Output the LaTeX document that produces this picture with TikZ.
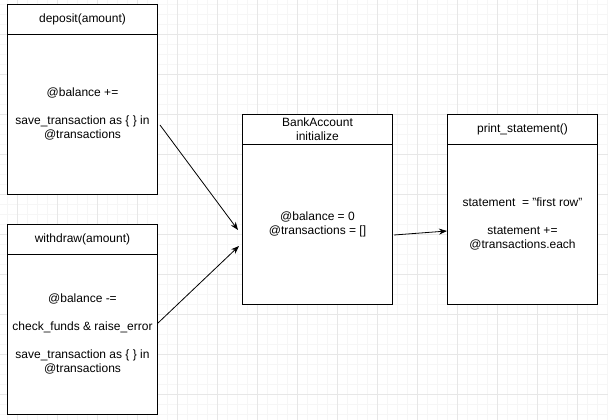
\documentclass[tikz,border=0pt]{standalone}
\usepackage{fontspec}
\setmainfont{Liberation Sans}
\usetikzlibrary{positioning,arrows.meta}
\definecolor{minorgrid}{RGB}{246,246,246}
\definecolor{majorgrid}{RGB}{231,231,231}
\tikzset{
    methodhead/.style = {draw, fill = white, line width = 1pt, minimum width = 150pt, minimum height = 30pt, inner sep = 0pt, outer sep = 0pt, align = center},
    methodbody/.style = {draw, fill = white, line width = 1pt, minimum width = 150pt, minimum height = 160pt, inner sep = 0pt, outer sep = 0pt, align = center},
    call/.style = {line width = 0.8pt, -{Stealth[length = 8pt, width = 6pt]}}
}
\begin{document}
\begin{tikzpicture}[x = 1pt, y = -1pt, font = \fontsize{12}{14}\selectfont]
        \useasboundingbox[fill = white] (0, 0) rectangle (608, 420);
        % grid
        \foreach \k in {0, ..., 60} \draw[minorgrid, line width = 0.6pt] (7 + 10*\k, 0) -- (7 + 10*\k, 420);
        \foreach \k in {0, ..., 41} \draw[minorgrid, line width = 0.6pt] (0, 4.5 + 10*\k) -- (608, 4.5 + 10*\k);
        \foreach \k in {0, ..., 14} \draw[majorgrid, line width = 0.8pt] (17 + 40*\k, 0) -- (17 + 40*\k, 420);
        \foreach \k in {0, ..., 9} \draw[majorgrid, line width = 0.8pt] (0, 34.5 + 40*\k) -- (608, 34.5 + 40*\k);

        \node[methodhead] (dephead) at (82.5, 19.3) {deposit(amount)};
        \node[methodbody, below = 0pt of dephead] (depbody) {@balance +=\\[14pt]save\_transaction as \{ \} in\\@transactions};

        \node[methodhead] (wdhead) at (82.5, 239.3) {withdraw(amount)};
        \node[methodbody, below = 0pt of wdhead] (wdbody) {@balance -=\\[14pt]check\_funds \& raise\_error\\[14pt]save\_transaction as \{ \} in\\@transactions};

        \node[methodhead] (bankhead) at (317.5, 129.3) {BankAccount\\initialize};
        \node[methodbody, below = 0pt of bankhead] (bankbody) {@balance = 0\\@transactions = []};

        \node[methodhead] (printhead) at (522.5, 129.3) {print\_statement()};
        \node[methodbody, below = 0pt of printhead] (printbody) {statement\ \ = "first row"\\[14pt]statement +=\\@transactions.each};

        \coordinate (depout) at (160, 125);
        \coordinate (wdout) at (158, 323);
        \coordinate (bankin1) at (238, 230);
        \coordinate (bankin2) at (239, 246);
        \coordinate (bankout) at (394, 235);
        \coordinate (printin) at (447, 231);
        \draw[call] (depout) -- (bankin1);
        \draw[call] (wdout) -- (bankin2);
        \draw[call] (bankout) -- (printin);
    \end{tikzpicture}
\end{document}
